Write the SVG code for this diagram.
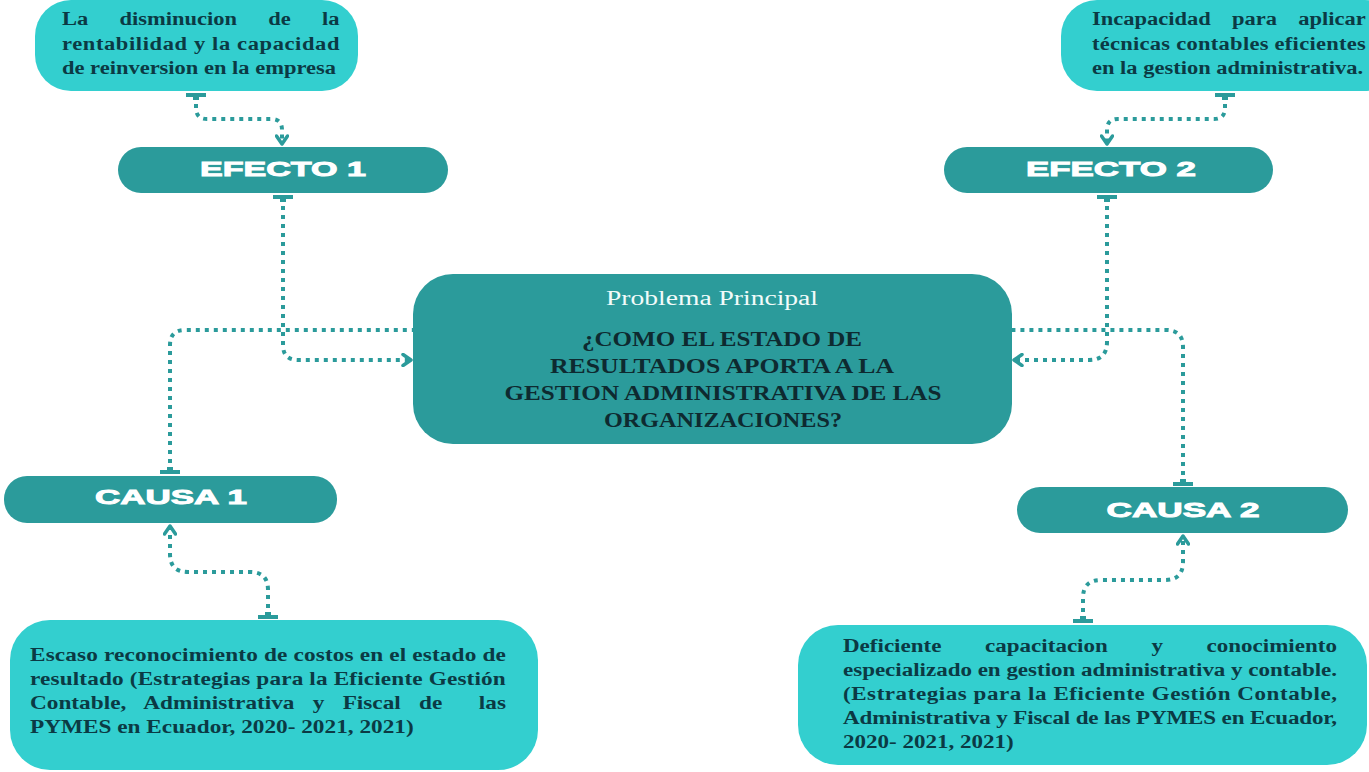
<svg xmlns="http://www.w3.org/2000/svg" width="1369" height="772" viewBox="0 0 1369 772">
<style>
.dark{fill:#2b9b9b}
.light{fill:#33cfcf}
.lbl{font-family:"Liberation Sans",Arial,sans-serif;font-weight:bold;font-size:20px;fill:#ffffff;stroke:#ffffff;stroke-width:0.9;text-anchor:middle}
.body{font-family:"Liberation Serif","Times New Roman",serif;font-weight:bold;font-size:18px;fill:#0b3a44}
.caps{font-family:"Liberation Serif","Times New Roman",serif;font-weight:bold;font-size:22px;fill:#0e2a30;text-anchor:middle}
.title{font-family:"Liberation Serif","Times New Roman",serif;font-size:20px;fill:#f2fbfa;text-anchor:middle}
.con{fill:none;stroke:#2b9b9b;stroke-width:4;stroke-dasharray:4 5}
</style>
<defs>
<marker id="arr" viewBox="0 0 12 14" refX="10" refY="7" markerWidth="12" markerHeight="14" orient="auto" markerUnits="userSpaceOnUse">
<path d="M2,1.5 L10,7 L2,12.5" fill="none" stroke="#2b9b9b" stroke-width="3.5" stroke-linecap="round" stroke-linejoin="round"/>
</marker>
<marker id="tbar" viewBox="0 0 8 22" refX="2" refY="11" markerWidth="8" markerHeight="22" orient="auto" markerUnits="userSpaceOnUse">
<rect x="0" y="1" width="4" height="20" fill="#2b9b9b"/>
<rect x="3" y="8" width="4" height="6" fill="#2b9b9b"/>
</marker>
</defs>
<rect width="1369" height="772" fill="#ffffff"/>

<g id="efecto1-detalle">
<rect class="light" x="35" y="0" width="323" height="91" rx="36"/>
<text class="body" transform="translate(62,0) scale(1.25,1)">
<tspan x="0" y="25">La</tspan><tspan x="46" y="25">disminucion</tspan><tspan x="165" y="25">de</tspan><tspan x="208" y="25">la</tspan>
<tspan x="0" y="50" textLength="222" lengthAdjust="spacing">rentabilidad y la capacidad</tspan>
<tspan x="0" y="74">de reinversion en la empresa</tspan>
</text>
</g>

<g id="efecto2-detalle">
<rect class="light" x="1061" y="0" width="340" height="91" rx="36"/>
<text class="body" transform="translate(1092,0) scale(1.25,1)">
<tspan x="0" y="25">Incapacidad</tspan><tspan x="112" y="25">para</tspan><tspan x="165" y="25">aplicar</tspan>
<tspan x="0" y="50" textLength="219" lengthAdjust="spacing">técnicas contables eficientes</tspan>
<tspan x="0" y="74">en la gestion administrativa.</tspan>
</text>
</g>

<g id="efecto1">
<rect class="dark" x="118" y="147" width="330" height="46" rx="23"/>
<text class="lbl" x="283" y="176" textLength="166" lengthAdjust="spacingAndGlyphs">EFECTO 1</text>
</g>

<g id="efecto2">
<rect class="dark" x="944" y="147" width="329" height="46" rx="23"/>
<text class="lbl" x="1111" y="176" textLength="170" lengthAdjust="spacingAndGlyphs">EFECTO  2</text>
</g>

<g id="problema">
<rect class="dark" x="413" y="274" width="599" height="170" rx="40"/>
<text class="title" x="712" y="305" textLength="212" lengthAdjust="spacingAndGlyphs">Problema Principal</text>
<text class="caps" x="722" y="346" textLength="280" lengthAdjust="spacingAndGlyphs">¿COMO EL ESTADO DE</text>
<text class="caps" x="722" y="373" textLength="344" lengthAdjust="spacingAndGlyphs">RESULTADOS APORTA A LA</text>
<text class="caps" x="723" y="400" textLength="437" lengthAdjust="spacingAndGlyphs">GESTION ADMINISTRATIVA DE LAS</text>
<text class="caps" x="723" y="427" textLength="238" lengthAdjust="spacingAndGlyphs">ORGANIZACIONES?</text>
</g>

<g id="causa1">
<rect class="dark" x="4" y="476" width="333" height="47" rx="23"/>
<text class="lbl" x="171" y="504" textLength="152" lengthAdjust="spacingAndGlyphs">CAUSA 1</text>
</g>

<g id="causa2">
<rect class="dark" x="1017" y="487" width="331" height="46" rx="23"/>
<text class="lbl" x="1183" y="517" textLength="153" lengthAdjust="spacingAndGlyphs">CAUSA 2</text>
</g>

<g id="causa1-detalle">
<rect class="light" x="10" y="620" width="528" height="150" rx="40"/>
<text class="body" transform="translate(30,0) scale(1.293,1)">
<tspan x="0" y="661" textLength="368" lengthAdjust="spacing">Escaso reconocimiento de costos en el estado de</tspan>
<tspan x="0" y="685" textLength="368" lengthAdjust="spacing">resultado (Estrategias para la  Eficiente  Gestión</tspan>
<tspan x="0" y="709">Contable,</tspan><tspan x="87.6" y="709">Administrativa</tspan><tspan x="218.7" y="709">y</tspan><tspan x="241.8" y="709">Fiscal</tspan><tspan x="300.9" y="709">de</tspan><tspan x="347.1" y="709">las</tspan>
<tspan x="0" y="733">PYMES en  Ecuador, 2020- 2021, 2021)</tspan>
</text>
</g>

<g id="causa2-detalle">
<rect class="light" x="798" y="625" width="569" height="140" rx="40"/>
<text class="body" transform="translate(843,0) scale(1.28,1)">
<tspan x="0" y="652">Deficiente</tspan><tspan x="111" y="652">capacitacion</tspan><tspan x="241" y="652">y</tspan><tspan x="284" y="652">conocimiento</tspan>
<tspan x="0" y="676" textLength="386" lengthAdjust="spacing">especializado en gestion administrativa y contable.</tspan>
<tspan x="0" y="700" textLength="386" lengthAdjust="spacing">(Estrategias para la Eficiente Gestión Contable,</tspan>
<tspan x="0" y="724" textLength="386" lengthAdjust="spacing">Administrativa y Fiscal de las PYMES en Ecuador,</tspan>
<tspan x="0" y="748">2020- 2021, 2021)</tspan>
</text>
</g>

<g id="connectors">
<path class="con" marker-start="url(#tbar)" marker-end="url(#arr)" d="M196,95 V108 Q196,119 207,119 H271 Q282,119 282,130 V144"/>
<path class="con" marker-start="url(#tbar)" marker-end="url(#arr)" d="M1225,95 V108 Q1225,119 1214,119 H1118 Q1107,119 1107,130 V144"/>
<path class="con" marker-start="url(#tbar)" marker-end="url(#arr)" d="M283,197 V345 Q283,360 298,360 H411"/>
<path class="con" marker-start="url(#tbar)" d="M170,472 V345 Q170,330 185,330 H413"/>
<path class="con" marker-start="url(#tbar)" marker-end="url(#arr)" d="M1107,197 V342 Q1107,360 1089,360 H1014"/>
<path class="con" marker-start="url(#tbar)" d="M1183,484 V347 Q1183,330 1166,330 H1012"/>
<path class="con" marker-start="url(#tbar)" marker-end="url(#arr)" d="M268,617 V590 Q268,572 250,572 H188 Q170,572 170,554 V526"/>
<path class="con" marker-start="url(#tbar)" marker-end="url(#arr)" d="M1083,621 V598 Q1083,580 1101,580 H1165 Q1183,580 1183,562 V536"/>
</g>
</svg>
